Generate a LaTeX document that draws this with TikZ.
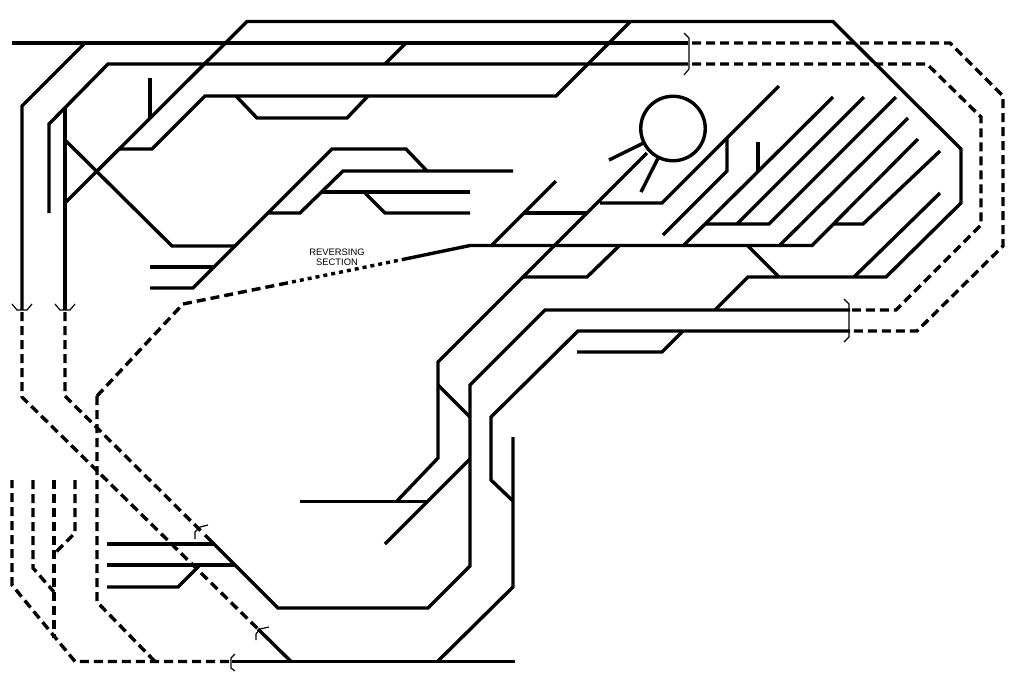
\documentclass[tikz,border=0pt]{standalone}
\usepackage{fontspec}
\setmainfont{Liberation Sans}
\usetikzlibrary{positioning}

\begin{document}
\begin{tikzpicture}[x=0.2mm, y=-0.2mm,
      track/.style={line width=0.68mm},
      hidden/.style={track, dash pattern=on 1.8mm off 1mm},
      rev/.style={track, dash pattern=on 0.8mm off 0.8mm},
      brk/.style={line width=0.24mm},
      turntable/.style={draw, circle, line width=0.68mm, minimum size=12.9mm, inner sep=0pt},
      lbl/.style={align=center, font=\fontsize{5.35}{5.9}\selectfont, inner sep=0pt}]
      \useasboundingbox (0,0) rectangle (1024,683);
      % main lines along the top
      \draw[track](12,43)--(688,43);
      \draw[track](49,213)--(49,124)--(108,64)--(688,64);
      \draw[track](22,310)--(22,106)--(85,43);
      \draw[track](65,310)--(65,108);
      \draw[track](65,203)--(247,21.5)--(833,21.5)--(961,149)--(961,203)--(886,277)--(748,277)--(715,310);
      \draw[track](150,78)--(150,118);
      \draw[track](120,149)--(152,149)--(205,96)--(556,96)--(630,22);
      \draw[track](236,96)--(257,118)--(347,118)--(368,96);
      \draw[track](385,64)--(406,43);
      % middle yard
      \draw[track](65,140)--(172,246)--(235,246);
      \draw[track](150,288)--(193,288)--(332,149)--(406,149)--(427,171);
      \draw[track](150,267)--(214,267);
      \draw[track](268,213)--(300,213)--(343,171)--(513,171);
      \draw[track](322,192)--(470,192);
      \draw[track](364,192)--(385,213)--(470,213);
      % reversing section
      \draw[hidden](97,396)--(183,304)--(292,282);
      \draw[rev](292,282)--(405,259);
      \draw[track](405,259)--(470,245.5)--(812,245.5)--(918,139);
      \node[lbl] (revlabel) at (337,257) {REVERSING\\SECTION};
      % turntable and its roads
      \node[turntable] (tt) at (673,128.5) {};
      \draw[track](609,160)--(tt);
      \draw[track](641,192)--(tt);
      \draw[track](647,153)--(438,362)--(438,458)--(397,501);
      \draw[track](600,203)--(662,203)--(779,86);
      \draw[track](727,139)--(727,171)--(663,235);
      \draw[track](556,181)--(491,246);
      \draw[track](523,213)--(587,213);
      \draw[track](523,277)--(587,277)--(619,246);
      % fan of sidings
      \draw[track](683,246)--(833,97);
      \draw[track](758,142)--(758,171);
      \draw[track](705,224)--(769,224)--(896,97);
      \draw[track](737,224)--(864,97);
      \draw[track](779,246)--(908,118);
      \draw[track](833,224)--(863,224)--(940,151);
      \draw[track](854,277)--(940,193);
      \draw[track](748,246)--(779,277);
      % lower loops
      \draw[track](850,310)--(545,310)--(470,385)--(470,566)--(428,608)--(278,608)--(205,535);
      \draw[track](850,331)--(578,331)--(491,417)--(491,480)--(513,501);
      \draw[track](577,352)--(662,352)--(683,331);
      \draw[track](513,437)--(513,587)--(438,661);
      \draw[track](438,385)--(470,417);
      \draw[track](470,459)--(385,544);
      \draw[track](300,501.5)--(428,501.5);
      \draw[track](107,544)--(214,544);
      \draw[track](107,565)--(235,565);
      \draw[track](107,587)--(178,587)--(200,565);
      \draw[track](232,661.5)--(515,661.5);
      \draw[track](258,629)--(291,661.5);
      % hidden tracks
      \draw[hidden](692,43)--(950,43)--(1003,96)--(1003,246)--(917,331)--(852,331);
      \draw[hidden](692,64)--(927,64)--(981,117)--(981,225)--(896,310)--(852,310);
      \draw[hidden](22,312)--(22,397)--(258,629);
      \draw[hidden](65,312)--(65,396)--(203,533);
      \draw[hidden](97,396)--(97,602)--(155,661.5);
      \draw[hidden](229,661.5)--(75,661.5)--(12,585)--(12,480);
      \draw[hidden](33,480)--(33,568)--(54,592);
      \draw[hidden](54,480)--(54,638);
      \draw[hidden](75,480)--(75,533)--(54,554);
      % section brackets
      \draw[brk](684,33)--(689,38)--(689,69)--(684,75);
      \draw[brk](844,299)--(849,304)--(849,337)--(844,342);
      \foreach \xx in {22,65}
        \draw[brk](\xx-10,304)--(\xx-5,310)--(\xx+5,310)--(\xx+10,304);
      \draw[brk](195,539)--(195,532)--(200,527)--(208,525);
      \draw[brk](256,640)--(256,634)--(260,629)--(269,627);
      \draw[brk](235,654)--(231,658)--(231,668)--(235,671);
    \end{tikzpicture}
\end{document}
